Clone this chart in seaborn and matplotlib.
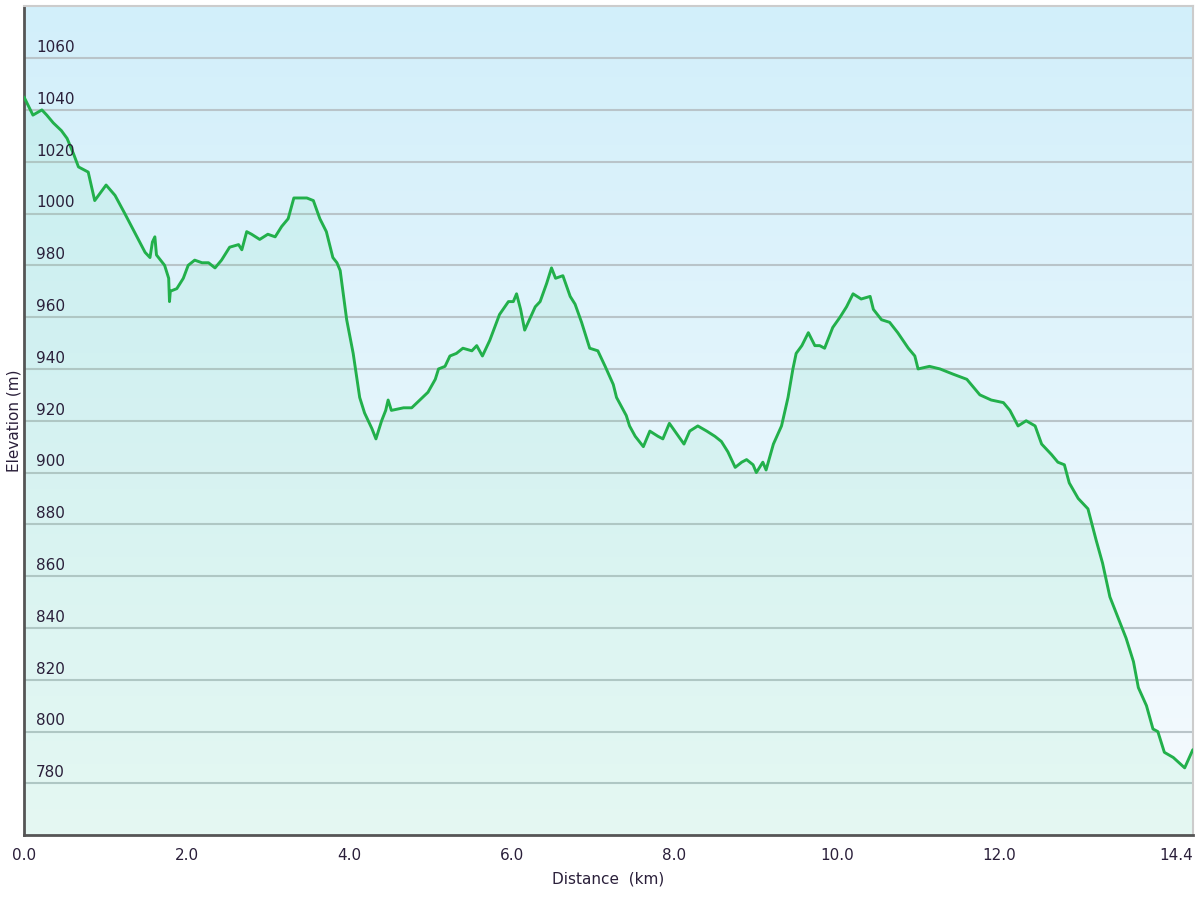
import numpy as np
import pandas as pd
import seaborn as sns
import matplotlib.pyplot as plt
from matplotlib.colors import LinearSegmentedColormap

# Elevation profile (distance in km, elevation in m)
distance_km = [
    0.00, 0.11, 0.22, 0.28, 0.36, 0.46, 0.53, 0.61, 0.67, 0.79, 0.87, 1.01, 1.12,
    1.24, 1.34, 1.49, 1.55, 1.58, 1.61, 1.63, 1.73, 1.78, 1.79, 1.80, 1.88, 1.96,
    2.02, 2.10, 2.19, 2.27, 2.35, 2.43, 2.53, 2.64, 2.68, 2.74, 2.80, 2.90, 3.00,
    3.09, 3.17, 3.25, 3.32, 3.48, 3.56, 3.64, 3.72, 3.80, 3.85, 3.89, 3.97, 4.05,
    4.13, 4.19, 4.28, 4.33, 4.40, 4.45, 4.48, 4.52, 4.67, 4.77, 4.87, 4.97, 5.06,
    5.10, 5.18, 5.24, 5.32, 5.40, 5.51, 5.57, 5.64, 5.73, 5.85, 5.96, 6.02, 6.06,
    6.11, 6.16, 6.29, 6.35, 6.43, 6.49, 6.54, 6.63, 6.72, 6.78, 6.86, 6.96, 7.06,
    7.15, 7.25, 7.29, 7.41, 7.45, 7.52, 7.62, 7.70, 7.80, 7.86, 7.94, 8.03, 8.12,
    8.19, 8.29, 8.40, 8.50, 8.58, 8.66, 8.75, 8.83, 8.89, 8.97, 9.01, 9.09, 9.13,
    9.22, 9.32, 9.40, 9.46, 9.50, 9.57, 9.65, 9.73, 9.79, 9.85, 9.95, 10.04, 10.12,
    10.20, 10.30, 10.41, 10.45, 10.55, 10.65, 10.75, 10.88, 10.96, 11.00, 11.14,
    11.27, 11.43, 11.60, 11.76, 11.90, 12.05, 12.13, 12.23, 12.33, 12.44, 12.52,
    12.64, 12.72, 12.80, 12.86, 12.97, 13.09, 13.19, 13.27, 13.36, 13.46, 13.56,
    13.65, 13.71, 13.81, 13.89, 13.95, 14.03, 14.14, 14.28, 14.38,
]
elevation_m = [
    1045, 1038, 1040, 1038, 1035, 1032, 1029, 1023, 1018, 1016, 1005, 1011, 1007,
    1000, 994, 985, 983, 989, 991, 984, 980, 975, 966, 970, 971, 975,
    980, 982, 981, 981, 979, 982, 987, 988, 986, 993, 992, 990, 992,
    991, 995, 998, 1006, 1006, 1005, 998, 993, 983, 981, 978, 959, 946,
    929, 923, 917, 913, 920, 924, 928, 924, 925, 925, 928, 931, 936,
    940, 941, 945, 946, 948, 947, 949, 945, 951, 961, 966, 966, 969,
    963, 955, 964, 966, 973, 979, 975, 976, 968, 965, 958, 948, 947,
    941, 934, 929, 922, 918, 914, 910, 916, 914, 913, 919, 915, 911,
    916, 918, 916, 914, 912, 908, 902, 904, 905, 903, 900, 904, 901,
    911, 918, 929, 940, 946, 949, 954, 949, 949, 948, 956, 960, 964,
    969, 967, 968, 963, 959, 958, 954, 948, 945, 940, 941,
    940, 938, 936, 930, 928, 927, 924, 918, 920, 918, 911,
    907, 904, 903, 896, 890, 886, 874, 865, 852, 844, 836,
    827, 817, 810, 801, 800, 792, 790, 786, 793,
]

y_ticks = [780, 800, 820, 840, 860, 880, 900, 920, 940, 960, 980, 1000, 1020, 1040, 1060]
x_ticks = [0.0, 2.0, 4.0, 6.0, 8.0, 10.0, 12.0, 14.38]
x_tick_labels = ["0.0", "2.0", "4.0", "6.0", "8.0", "10.0", "12.0", "14.4"]

profile = pd.DataFrame({"distance": distance_km, "elevation": elevation_m})

sns.set_style("white")
plt.rcParams["font.family"] = ["DejaVu Sans"]

fig = plt.figure(figsize=(12, 9), dpi=100)
ax = fig.add_axes([0.02, 0.072, 0.974, 0.921])

x_max = 14.38
y_min, y_max = 760, 1080
ax.set_xlim(0, x_max)
ax.set_ylim(y_min, y_max)

# gradient background, light blue at the top fading to near white
bg = LinearSegmentedColormap.from_list("bg", ["#f6fbfe", "#d2effa"])
ax.imshow(np.linspace(0, 1, 256).reshape(-1, 1), cmap=bg, aspect="auto",
          extent=[0, x_max, y_min, y_max], origin="lower", zorder=0)

# grid lines
for v in y_ticks:
    ax.axhline(v, color="#b9c4c9", lw=1.5, zorder=1)

# pale green fill under the profile
ax.fill_between(profile["distance"], profile["elevation"], y_min,
                color="#5fe0a0", alpha=0.11, lw=0, zorder=2)
sns.lineplot(data=profile, x="distance", y="elevation", ax=ax,
             color="#22b04b", lw=2.1, zorder=3)

# y tick labels sit inside the plot, just above each grid line
ax.set_yticks([])
for v in y_ticks:
    ax.text(0.15, v + 1.2, str(v), fontsize=11, color="#2a1f3a",
            ha="left", va="bottom", zorder=4)

ax.set_xticks(x_ticks)
ax.set_xticklabels(x_tick_labels, fontsize=11, color="#2a1f3a")
ax.get_xticklabels()[-1].set_horizontalalignment("right")
ax.tick_params(axis="x", direction="out", length=5, width=1.2, color="#444444", pad=4)

ax.set_xlabel("Distance  (km)", fontsize=11, color="#2a1f3a", labelpad=6)
ax.set_ylabel("Elevation (m)", fontsize=11, color="#2a1f3a", labelpad=2)

for side in ["left", "bottom"]:
    ax.spines[side].set_color("#555555")
    ax.spines[side].set_linewidth(2)
for side in ["top", "right"]:
    ax.spines[side].set_color("#cccccc")
    ax.spines[side].set_linewidth(1.5)

fig.savefig("out.png", dpi=100)
